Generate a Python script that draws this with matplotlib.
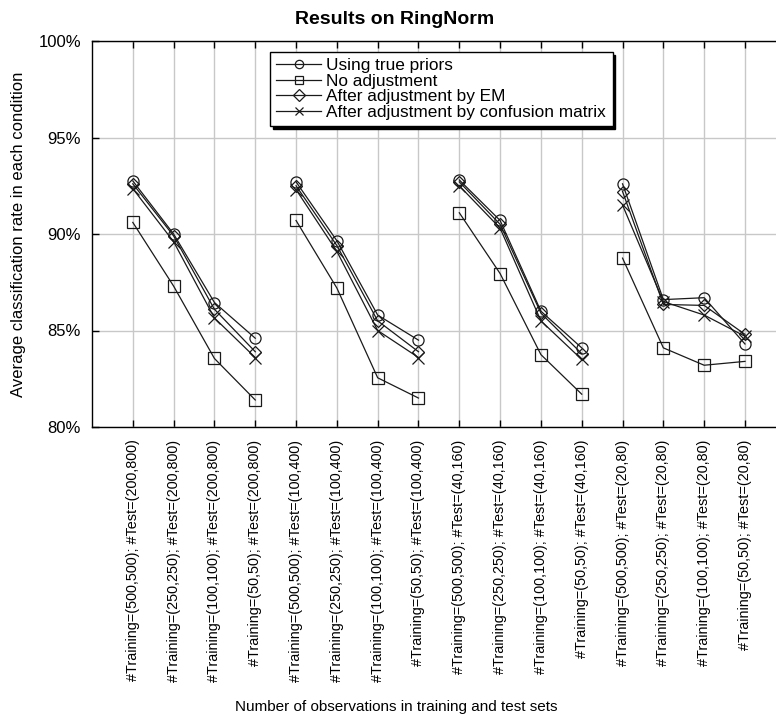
import matplotlib
matplotlib.use("Agg")
import matplotlib.pyplot as plt
from matplotlib.ticker import FuncFormatter

plt.rcParams['font.family'] = ['Liberation Sans', 'DejaVu Sans']

categories = [
    "#Training=(500,500); #Test=(200,800)",
    "#Training=(250,250); #Test=(200,800)",
    "#Training=(100,100); #Test=(200,800)",
    "#Training=(50,50); #Test=(200,800)",
    "#Training=(500,500); #Test=(100,400)",
    "#Training=(250,250); #Test=(100,400)",
    "#Training=(100,100); #Test=(100,400)",
    "#Training=(50,50); #Test=(100,400)",
    "#Training=(500,500); #Test=(40,160)",
    "#Training=(250,250); #Test=(40,160)",
    "#Training=(100,100); #Test=(40,160)",
    "#Training=(50,50); #Test=(40,160)",
    "#Training=(500,500); #Test=(20,80)",
    "#Training=(250,250); #Test=(20,80)",
    "#Training=(100,100); #Test=(20,80)",
    "#Training=(50,50); #Test=(20,80)",
]

true_priors = [92.75, 90.0, 86.45, 84.6,
               92.7, 89.65, 85.8, 84.5,
               92.8, 90.7, 86.0, 84.1,
               92.6, 86.6, 86.7, 84.3]
no_adjust = [90.6, 87.3, 83.55, 81.4,
             90.7, 87.2, 82.55, 81.5,
             91.1, 87.95, 83.75, 81.7,
             88.75, 84.1, 83.2, 83.4]
em_adjust = [92.6, 89.9, 86.1, 83.9,
             92.5, 89.4, 85.5, 83.9,
             92.7, 90.5, 85.9, 83.8,
             92.2, 86.35, 86.3, 84.8]
cm_adjust = [92.35, 89.6, 85.65, 83.6,
             92.3, 89.1, 85.0, 83.6,
             92.5, 90.3, 85.5, 83.5,
             91.5, 86.5, 85.8, 84.7]

series = [
    ("Using true priors", true_priors, 'o'),
    ("No adjustment", no_adjust, 's'),
    ("After adjustment by EM", em_adjust, 'D'),
    ("After adjustment by confusion matrix", cm_adjust, 'x'),
]
msizes = {'o': 8, 's': 8, 'D': 6, 'x': 8}

fig = plt.figure(figsize=(7.76, 7.22), dpi=100)
ax = fig.add_axes([92/776, 1 - 427/722, 1 - 92/776, (427 - 41)/722])

x = list(range(len(categories)))
for label, vals, m in series:
    for g in range(4):
        xs = x[g*4:(g+1)*4]
        ys = vals[g*4:(g+1)*4]
        ax.plot(xs, ys, color='#1a1a1a', linewidth=0.9, marker=m,
                markersize=msizes[m], markerfacecolor='none',
                markeredgecolor='#1a1a1a', markeredgewidth=0.9,
                label=label if g == 0 else None)

ax.set_xlim(-1, 15.76)
ax.set_ylim(80, 100)
ax.set_yticks([80, 85, 90, 95, 100])
ax.yaxis.set_major_formatter(FuncFormatter(lambda v, p: f"{v:.0f}%"))
ax.set_xticks(x)
ax.set_xticklabels(categories, rotation=90, fontsize=10.4)
ax.tick_params(axis='y', labelsize=12, direction='in', length=5, width=1, pad=8)
ax.tick_params(axis='x', direction='in', length=5, width=1, top=True, pad=9)

ax.grid(True, color='#c8c8c8', linewidth=1.0)
ax.set_axisbelow(True)
ax.spines['right'].set_visible(False)
for s in ['left', 'top', 'bottom']:
    ax.spines[s].set_linewidth(1.0)

fig.text(395/776, 1 - 19/722, "Results on RingNorm", ha='center', va='center',
         fontsize=14, fontweight='bold')
ax.set_ylabel("Average classification rate in each condition", fontsize=12, labelpad=9)
fig.text(396/776, 1 - 707/722, "Number of observations in training and test sets",
         ha='center', va='center', fontsize=11)

leg = ax.legend(loc='upper left', bbox_to_anchor=(0.26, 0.972), fontsize=12.4,
                frameon=True, fancybox=False, edgecolor='black',
                shadow={'color': 'black', 'alpha': 1.0},
                labelspacing=0.02, handlelength=2.6, handletextpad=0.3,
                borderpad=0.38, borderaxespad=0)
leg.get_frame().set_linewidth(1.0)
leg.get_frame().set_facecolor('white')
for h in leg.legend_handles:
    h.set_markersize(6)

fig.savefig("out.png", dpi=100)
